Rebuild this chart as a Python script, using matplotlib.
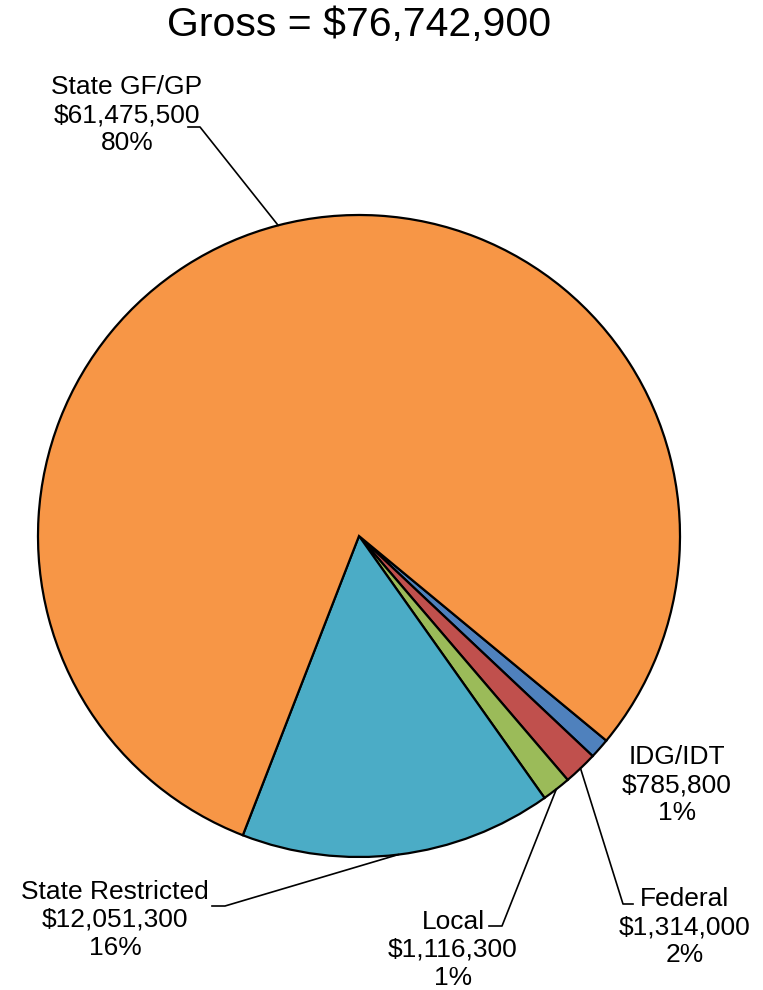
import numpy as np
import matplotlib
matplotlib.use("Agg")
import matplotlib.pyplot as plt

plt.rcParams['font.family'] = ['Liberation Sans', 'DejaVu Sans']

# Data (clockwise order starting from the blue slice)
labels = ['IDG/IDT', 'Federal', 'Local', 'State Restricted', 'State GF/GP']
amounts = [785800, 1314000, 1116300, 12051300, 61475500]
colors = ['#4F81BD', '#C0504D', '#9BBB59', '#4BACC6', '#F79646']

W, H = 763, 990
total = sum(amounts)

fig = plt.figure(figsize=(W / 100, H / 100), dpi=100)
ax = fig.add_axes([0, 0, 1, 1])

# pie geometry in pixel units (y measured from bottom)
cx, cy, R = 359, H - 536, 321
start = -39.6

ax.pie(amounts, colors=colors, startangle=start, counterclock=False,
       center=(cx, cy), radius=R,
       wedgeprops=dict(edgecolor='black', linewidth=1.6))
ax.set_xlim(0, W)
ax.set_ylim(0, H)
ax.set_aspect('equal')
ax.axis('off')

# label layout: text centre, leader knee, tail length (px, from top)
text_pos = {'IDG/IDT': (677, 785), 'Federal': (685, 927), 'Local': (453, 950),
            'State Restricted': (115, 920), 'State GF/GP': (127, 115)}
knee_pos = {'Federal': (623, 904, 10), 'Local': (502, 926, -13),
            'State Restricted': (225, 906, -13), 'State GF/GP': (200, 127, -12)}

cum = np.cumsum([0] + amounts)
for i, name in enumerate(labels):
    pct = amounts[i] / total * 100
    txt = f"{name}\n${amounts[i]:,}\n{pct:.0f}%"
    tx, ty = text_pos[name]
    ax.text(tx, H - ty, txt, ha='center', va='center', fontsize=19,
            linespacing=1.22, multialignment='center')
    if name in knee_pos:
        mid = start - 360 * (cum[i] + cum[i + 1]) / 2 / total
        ex = cx + R * np.cos(np.radians(mid))
        ey = cy + R * np.sin(np.radians(mid))
        kx, ky, tail = knee_pos[name]
        ax.plot([ex, kx, kx + tail], [ey, H - ky, H - ky], color='black', lw=1.2)

ax.text(W / 2 - 22, H - 25, f"Gross = ${total:,}", ha='center', va='center',
        fontsize=29.5)

fig.savefig('out.png', dpi=100)
